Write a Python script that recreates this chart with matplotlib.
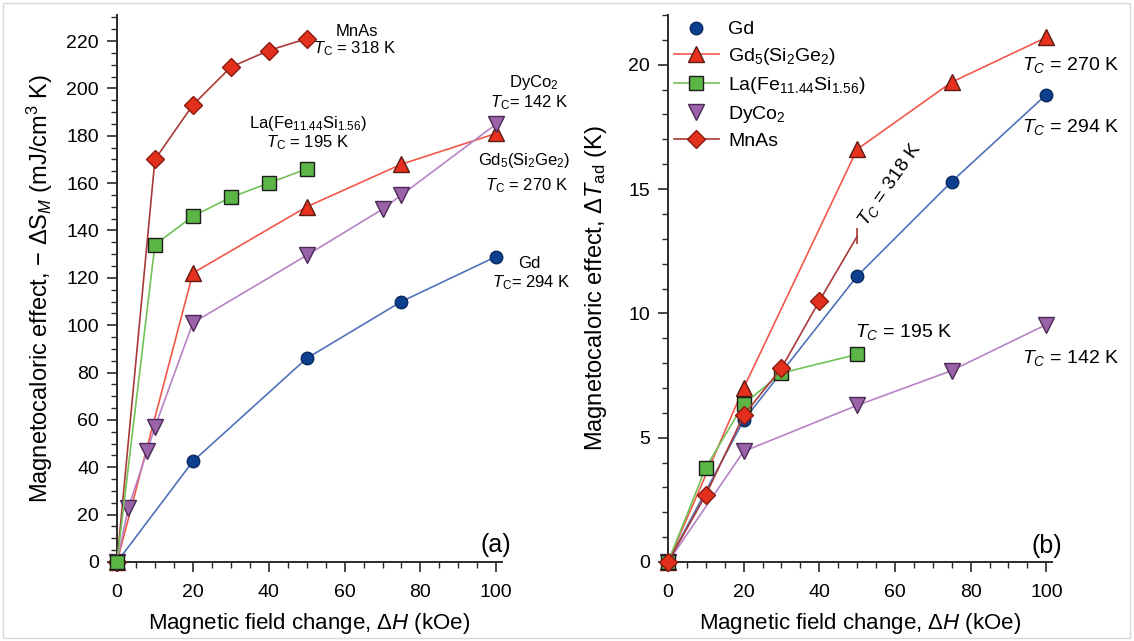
import matplotlib
matplotlib.use("Agg")
import matplotlib.pyplot as plt
from matplotlib.ticker import MultipleLocator
from matplotlib.patches import Rectangle
from matplotlib.lines import Line2D

plt.rcParams['font.family'] = ['Liberation Sans', 'DejaVu Sans']
plt.rcParams['mathtext.fontset'] = 'custom'
plt.rcParams['mathtext.rm'] = 'Liberation Sans'
plt.rcParams['mathtext.it'] = 'Liberation Sans:italic'
plt.rcParams['mathtext.bf'] = 'Liberation Sans:bold'

NARROW = ['Liberation Sans Narrow', 'Liberation Sans', 'DejaVu Sans']

# ---------------- Panel (a): -dS_M ----------------
x_gd_a = [0, 20, 50, 75, 100]
gd_a = [0, 42.5, 86, 110, 129]
x_gdsige_a = [0, 20, 50, 75, 100]
gdsige_a = [0, 122, 150, 168, 181]
x_la_a = [0, 10, 20, 30, 40, 50]
la_a = [0, 134, 146, 154, 160, 166]
x_dyco_a = [0, 3, 8, 10, 20, 50, 70, 75, 100]
dyco_a = [0, 23, 47, 57, 101, 129.5, 149, 155, 185]
x_mnas_a = [0, 10, 20, 30, 40, 50]
mnas_a = [0, 170, 193, 209, 216, 221]

# ---------------- Panel (b): dT_ad ----------------
x_gd_b = [0, 20, 50, 75, 100]
gd_b = [0, 5.7, 11.5, 15.3, 18.8]
x_gdsige_b = [0, 20, 50, 75, 100]
gdsige_b = [0, 7.0, 16.6, 19.3, 21.1]
x_la_b = [0, 10, 20, 30, 50]
la_b = [0, 3.8, 6.35, 7.6, 8.35]
x_dyco_b = [0, 20, 50, 75, 100]
dyco_b = [0, 4.45, 6.3, 7.7, 9.55]
x_mnas_b = [0, 10, 20, 30, 40]
mnas_b = [0, 2.7, 5.9, 7.8, 10.5]
x_mnas_b_end = [40, 50]
mnas_b_end = [10.5, 13.1]

labels = ['Gd', r'Gd$_5$(Si$_2$Ge$_2$)', r'La(Fe$_{11.44}$Si$_{1.56}$)', r'DyCo$_2$', 'MnAs']

# styles
ST = {
    'gd':   dict(marker='o', mfc='#0d3f8f', mec='#0a2a5e', line='#4f72b8', ms=9),
    'gds':  dict(marker='^', mfc='#e8301f', mec='#5a1c12', line='#f2584a', ms=12),
    'la':   dict(marker='s', mfc='#5cb646', mec='#1c1c1c', line='#72c257', ms=10.5),
    'dy':   dict(marker='v', mfc='#9a62a8', mec='#4a2a55', line='#b683c6', ms=12),
    'mn':   dict(marker='D', mfc='#e2301c', mec='#8a1a10', line='#a8393a', ms=9),
}

fig = plt.figure(figsize=(11.34, 6.41), dpi=100)
fig.patches.append(Rectangle((3/1134, 3/641), 1127/1134, 635/641, transform=fig.transFigure,
                             fill=False, edgecolor='#d8d8d8', linewidth=1))

axA = fig.add_axes([117/1134, 1-562/641, 385/1134, 547/641])
axB = fig.add_axes([668/1134, 1-562/641, 384/1134, 547/641])


def plot_series(ax, x, y, key, lw=1.2, label=None, z=3):
    s = ST[key]
    ax.plot(x, y, color=s['line'], lw=lw, marker=s['marker'], ms=s['ms'],
            mfc=s['mfc'], mec=s['mec'], mew=1.0, clip_on=False, zorder=z, label=label)


# Panel a
plot_series(axA, x_mnas_a, mnas_a, 'mn', z=3)
plot_series(axA, x_gd_a, gd_a, 'gd', z=3)
plot_series(axA, x_gdsige_a, gdsige_a, 'gds', z=4)
plot_series(axA, x_dyco_a, dyco_a, 'dy', z=5)
plot_series(axA, x_la_a, la_a, 'la', z=6)

# Panel b
plot_series(axB, x_gd_b, gd_b, 'gd', z=3)
plot_series(axB, x_dyco_b, dyco_b, 'dy', z=3)
plot_series(axB, x_gdsige_b, gdsige_b, 'gds', z=4)
plot_series(axB, x_la_b, la_b, 'la', z=5)
axB.plot(x_mnas_b_end, mnas_b_end, color=ST['mn']['line'], lw=1.2, marker='|', ms=11,
         markevery=[1], mec=ST['mn']['line'], mew=1.2, zorder=5)
plot_series(axB, x_mnas_b, mnas_b, 'mn', z=6)

for ax, ylim, ymaj, ymin in [(axA, (0, 231), 20, 5), (axB, (0, 22), 5, 1)]:
    ax.set_xlim(0, 101.5)
    ax.set_ylim(*ylim)
    ax.xaxis.set_major_locator(MultipleLocator(20))
    ax.xaxis.set_minor_locator(MultipleLocator(5))
    ax.yaxis.set_major_locator(MultipleLocator(ymaj))
    ax.yaxis.set_minor_locator(MultipleLocator(ymin))
    for sp in ['top', 'right']:
        ax.spines[sp].set_visible(False)
    for sp in ['left', 'bottom']:
        ax.spines[sp].set_linewidth(1.4)
        ax.spines[sp].set_color('#2a2a2a')
    ax.tick_params(which='major', direction='out', length=7, width=1.2, color='#2a2a2a',
                   labelsize=14, pad=6)
    ax.tick_params(axis='x', which='major', pad=9)
    ax.tick_params(which='minor', direction='out', length=4, width=1.0, color='#2a2a2a')
    for t in ax.get_xticklabels() + ax.get_yticklabels():
        t.set_family(NARROW)
    ax.set_xlabel(r'Magnetic field change, $\Delta H$ (kOe)', fontsize=16, family=NARROW, labelpad=7)

axA.set_ylabel(r'Magnetocaloric effect, $-$ $\Delta$S$_{M}$ (mJ/cm$^3$ K)', fontsize=17, labelpad=8)
axB.set_ylabel(r'Magnetocaloric effect, $\Delta T_{\rm ad}$ (K)', fontsize=17, labelpad=14)

axA.text(100, 2, '(a)', fontsize=18, ha='center', va='bottom')
axB.text(100, 0.15, '(b)', fontsize=18, ha='center', va='bottom')

# panel a annotations
fa = 12
axA.text(63.2, 224.2, 'MnAs', fontsize=fa, ha='center', va='center')
axA.text(62.6, 217, r'$T_\mathrm{C}$ = 318 K', fontsize=fa, ha='center', va='center')
axA.text(50.3, 185, r'La(Fe$_{11.44}$Si$_{1.56}$)', fontsize=fa, ha='center', va='center')
axA.text(50.3, 177, r'$T_\mathrm{C}$ = 195 K', fontsize=fa, ha='center', va='center')
axA.text(110, 202.3, r'DyCo$_2$', fontsize=fa, ha='center', va='center')
axA.text(108.7, 193.8, r'$T_\mathrm{C}$= 142 K', fontsize=fa, ha='center', va='center')
axA.text(107.4, 169.4, r'Gd$_5$(Si$_2$Ge$_2$)', fontsize=fa, ha='center', va='center')
axA.text(107.9, 158.9, r'$T_\mathrm{C}$ = 270 K', fontsize=fa, ha='center', va='center')
axA.text(108.7, 126, 'Gd', fontsize=fa, ha='center', va='center')
axA.text(109.2, 118, r'$T_\mathrm{C}$= 294 K', fontsize=fa, ha='center', va='center')

# panel b annotations
fb = 14
axB.text(106.5, 20.0, r'$T_C$ = 270 K', fontsize=fb, ha='center', va='center')
axB.text(106.5, 17.5, r'$T_C$ = 294 K', fontsize=fb, ha='center', va='center')
axB.text(106.5, 8.2, r'$T_C$ = 142 K', fontsize=fb, ha='center', va='center')
axB.text(62.2, 9.26, r'$T_C$ = 195 K', fontsize=fb, ha='center', va='center')
axB.text(58.7, 15.2, r'$T_C$ = 318 K', fontsize=fb, ha='center', va='center', rotation=55)

# legend for panel b
handles = [
    Line2D([], [], ls='none', marker='o', ms=9, mfc=ST['gd']['mfc'], mec=ST['gd']['mec']),
    Line2D([], [], color=ST['gds']['line'], lw=1.2, marker='^', ms=12, mfc=ST['gds']['mfc'], mec=ST['gds']['mec']),
    Line2D([], [], color=ST['la']['line'], lw=1.2, marker='s', ms=10.5, mfc=ST['la']['mfc'], mec=ST['la']['mec']),
    Line2D([], [], ls='none', marker='v', ms=12, mfc=ST['dy']['mfc'], mec=ST['dy']['mec']),
    Line2D([], [], color=ST['mn']['line'], lw=1.2, marker='D', ms=9, mfc=ST['mn']['mfc'], mec=ST['mn']['mec']),
]
axB.legend(handles, labels, loc='upper left', bbox_to_anchor=(0.0, 1.0), frameon=False,
           fontsize=14, handlelength=2.3, handletextpad=0.5, labelspacing=0.4,
           borderaxespad=0.2, borderpad=0.1)

fig.savefig('out.png', dpi=100)
